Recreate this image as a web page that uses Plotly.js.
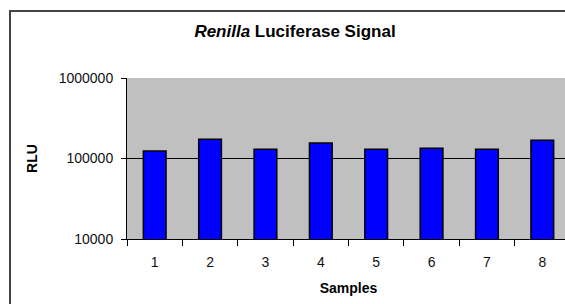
<!DOCTYPE html>
<html>
<head>
<meta charset="utf-8">
<script src="https://cdn.plot.ly/plotly-3.0.1.min.js"></script>
<style>
  html, body { margin: 0; padding: 0; overflow: hidden; background: #fff; width: 565px; height: 304px; }
  #chart { position: absolute; left: 0; top: 0; width: 600px; height: 320px; }
  #frame { position: absolute; left: 9px; top: 10px; width: 700px; height: 400px; border: 2px solid #444; pointer-events: none; }
</style>
</head>
<body>
<div id="chart"></div>
<div id="frame"></div>
<script>
const samples = ["1", "2", "3", "4", "5", "6", "7", "8"];
const rlu = [124000, 174000, 130000, 156000, 130000, 134000, 130000, 169000];
const yTickVals = [10000, 100000, 1000000];
const yTickText = ["10000", "100000", "1000000"];

const font = "Arial, 'Liberation Sans', sans-serif";

const trace = {
  type: "bar",
  x: samples,
  y: rlu,
  marker: { color: "#0000FF", line: { color: "#000000", width: 1.5 } },
  hoverinfo: "x+y"
};

const layout = {
  width: 600,
  height: 320,
  margin: { l: 127, r: 30, t: 78, b: 81, pad: 0 },
  paper_bgcolor: "rgba(0,0,0,0)",
  plot_bgcolor: "#C0C0C0",
  bargap: 0.59,
  showlegend: false,
  font: { family: font, color: "#111", size: 13 },
  title: {
    text: "<b><i>Renilla</i> Luciferase Signal</b>",
    font: { family: font, size: 17, color: "#000" },
    xref: "container", yref: "container",
    x: 295 / 600, xanchor: "center",
    y: 1 - 31 / 320, yanchor: "middle"
  },
  xaxis: {
    type: "category",
    range: [-0.5, 7.5],
    tickson: "boundaries",
    ticks: "outside",
    ticklen: 6,
    tickcolor: "#000",
    tickwidth: 1,
    ticklabelstandoff: 10,
    showline: true,
    linecolor: "#000",
    linewidth: 1,
    showgrid: false,
    zeroline: false,
    tickfont: { family: font, size: 14, color: "#111" },
    title: { text: "<b>Samples</b>", font: { family: font, size: 14, color: "#000" }, standoff: 14 }
  },
  yaxis: {
    type: "log",
    range: [4, 6],
    tickvals: yTickVals,
    ticktext: yTickText,
    ticks: "outside",
    ticklen: 5,
    tickcolor: "#000",
    tickwidth: 1,
    ticklabelstandoff: 5,
    showline: true,
    linecolor: "#000",
    linewidth: 1,
    showgrid: true,
    gridcolor: "#000",
    gridwidth: 1,
    zeroline: false,
    tickfont: { family: font, size: 14, color: "#111" },
    title: { text: "<b>RLU</b>", font: { family: font, size: 14, color: "#000" }, standoff: 17 }
  }
};

Plotly.newPlot("chart", [trace], layout, { displayModeBar: false, staticPlot: true });
</script>
</body>
</html>
